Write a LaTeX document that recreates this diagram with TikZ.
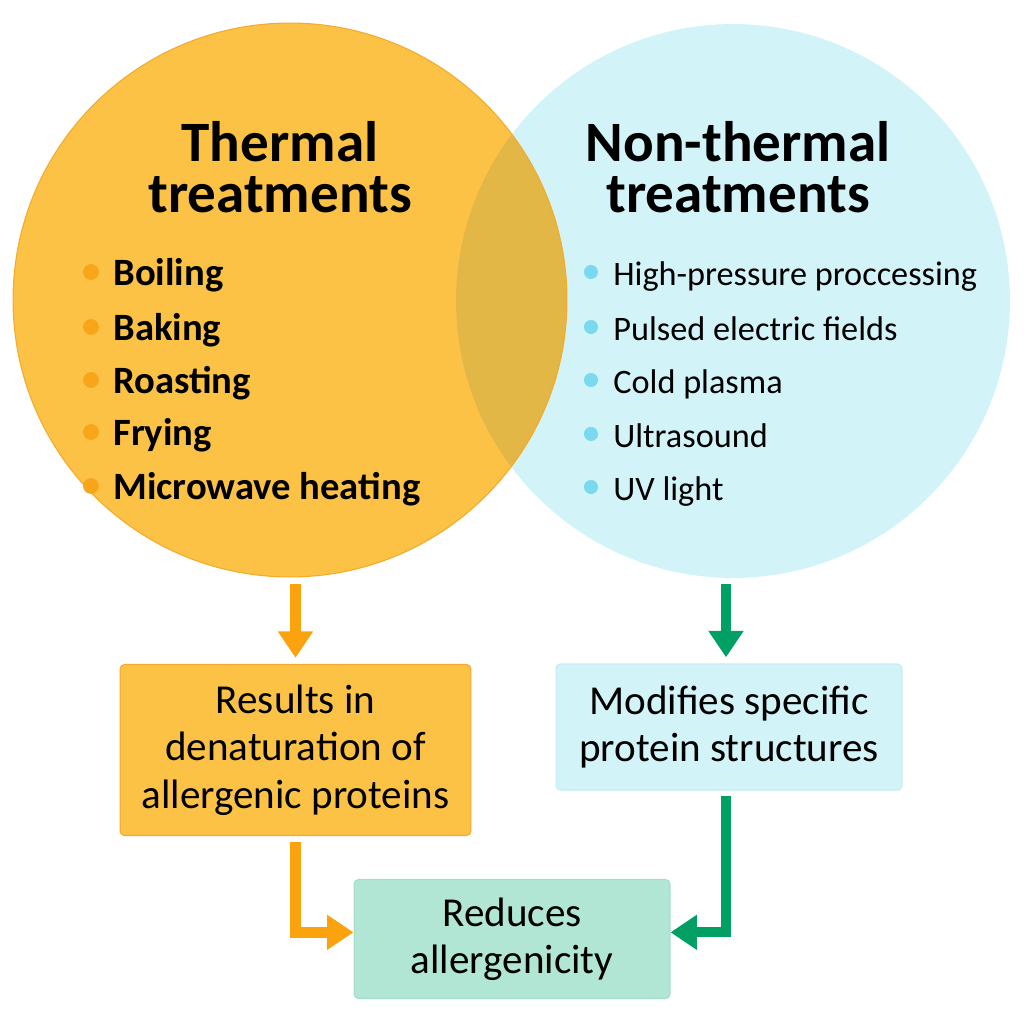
\documentclass[tikz,border=0pt]{standalone}
\usepackage{fontspec}
\setmainfont{Carlito}
\usetikzlibrary{arrows.meta}

\definecolor{thermfill}{HTML}{FBC246}
\definecolor{thermedge}{HTML}{F4AA2A}
\definecolor{nonfill}{HTML}{D2F4F9}
\definecolor{overlapfill}{HTML}{E2B746}
\definecolor{thermdot}{HTML}{F9A51A}
\definecolor{nondot}{HTML}{7AD9EF}
\definecolor{orangeline}{HTML}{FAA30E}
\definecolor{greenline}{HTML}{00A064}
\definecolor{mintfill}{HTML}{B0E6D3}
\definecolor{mintedge}{HTML}{A3DEC9}
\definecolor{nonedge}{HTML}{C2EDF3}

\begin{document}
\begin{tikzpicture}[x=0.02cm, y=-0.02cm,
    headtext/.style={font=\bfseries\fontsize{32.5}{29}\selectfont, align=center, inner sep=0pt, anchor=base},
    hotitem/.style={font=\bfseries\fontsize{22}{26}\selectfont, inner sep=0pt, anchor=base west},
    colditem/.style={font=\fontsize{19.5}{23}\selectfont, inner sep=0pt, anchor=base west},
    boxtext/.style={font=\fontsize{23.4}{26.9}\selectfont, align=center, rounded corners=2.5pt, line width=0.6pt},
    oarrow/.style={draw=orangeline, line width=6pt, -{Triangle[length=15pt,width=19pt]}},
    garrow/.style={draw=greenline, line width=5.6pt, -{Triangle[length=15pt,width=19pt]}}]
    \useasboundingbox (0,0) rectangle (1024,1024);
    % Venn circles
    \fill[nonfill] (733,301) circle (5.54cm);
    \fill[thermfill] (290,300) circle (5.54cm);
    \begin{scope}
        \clip (290,300) circle (5.54cm);
        \fill[overlapfill] (733,301) circle (5.54cm);
    \end{scope}
    \draw[thermedge, line width=0.6pt] (290,300) circle (5.54cm);
    % Thermal side
    \node[headtext] (hottitle) at (280,212) {Thermal\\treatments};
    \fill[thermdot] (91,272) circle (4.5pt);
    \node[hotitem] (boiling) at (113,285) {Boiling};
    \fill[thermdot] (91,327) circle (4.5pt);
    \node[hotitem] (baking) at (113,340) {Baking};
    \fill[thermdot] (91,380) circle (4.5pt);
    \node[hotitem] (roasting) at (113,393) {Roasting};
    \fill[thermdot] (91,432) circle (4.5pt);
    \node[hotitem] (frying) at (113,445) {Frying};
    \fill[thermdot] (91,486) circle (4.5pt);
    \node[hotitem] (microwave) at (113,499) {Microwave heating};
    % Non-thermal side
    \node[headtext] (coldtitle) at (738,212) {Non-thermal\\treatments};
    \fill[nondot] (591,272) circle (4pt);
    \node[colditem] (pressure) at (613,285) {High-pressure proccessing};
    \fill[nondot] (591,327) circle (4pt);
    \node[colditem] (pulsed) at (613,340) {Pulsed electric fields};
    \fill[nondot] (591,380) circle (4pt);
    \node[colditem] (plasma) at (613,393) {Cold plasma};
    \fill[nondot] (591,434) circle (4pt);
    \node[colditem] (ultrasound) at (613,447) {Ultrasound};
    \fill[nondot] (591,487) circle (4pt);
    \node[colditem] (uvlight) at (613,500) {UV light};
    % Effect boxes
    \node[boxtext, fill=thermfill, draw=thermedge, minimum width=7.02cm, minimum height=3.42cm] (results) at (295.5,750) {Results in\\denaturation of\\allergenic proteins};
    \node[boxtext, fill=nonfill, draw=nonedge, minimum width=6.92cm, minimum height=2.52cm] (modifies) at (729,727) {Modifies specific\\protein structures};
    \node[boxtext, fill=mintfill, draw=mintedge, minimum width=6.32cm, minimum height=2.38cm] (reduce) at (512,939) {Reduces\\allergenicity};
    % Arrows
    \coordinate (hotout) at (295.5,584);
    \coordinate (coldout) at (726,584);
    \draw[oarrow, shorten >=3.5pt] (hotout) -- (hotout |- results.north);
    \draw[garrow, shorten >=3.5pt] (coldout) -- (coldout |- modifies.north);
    \draw[oarrow, shorten <=3.4pt] (results.south) |- ([yshift=3.8pt]reduce.west);
    \draw[garrow, shorten <=3pt] (coldout |- modifies.south) |- ([yshift=3.8pt]reduce.east);
\end{tikzpicture}
\end{document}
